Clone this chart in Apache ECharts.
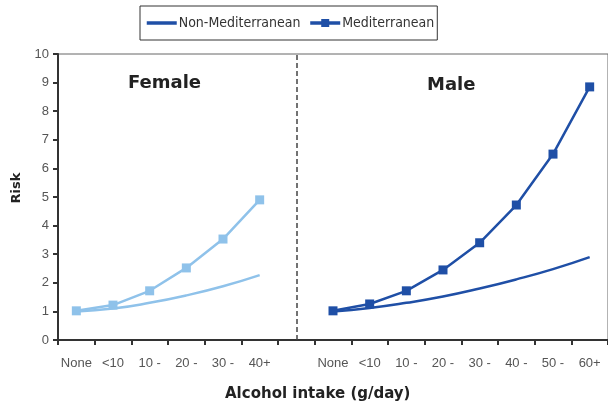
<!DOCTYPE html>
<html>
<head>
<meta charset="utf-8">
<script src="https://cdn.jsdelivr.net/npm/echarts@6/dist/echarts.min.js"></script>
<style>
    html, body { margin: 0; padding: 0; background: #fff; }
    #chart-risk { width: 608px; height: 402px; }
</style>
</head>
<body>
<div id="chart-risk"></div>
<script>
// categories: female block, gap, male block
var categories = ['None', '<10', '10 -', '20 -', '30 -', '40+', '',
    'None', '<10', '10 -', '20 -', '30 -', '40 -', '50 -', '60+'];

var yTicks = [0, 1, 2, 3, 4, 5, 6, 7, 8, 9, 10];

// null where the series has no point
var female_med     = [1.02, 1.22, 1.72, 2.52, 3.53, 4.9, null, null, null, null, null, null, null, null, null];
var female_non_med = [1.0, 1.1, 1.3, 1.56, 1.88, 2.27, null, null, null, null, null, null, null, null, null];
var male_med       = [null, null, null, null, null, null, null, 1.02, 1.26, 1.72, 2.45, 3.4, 4.72, 6.5, 8.85];
var male_non_med   = [null, null, null, null, null, null, null, 1.0, 1.12, 1.3, 1.52, 1.8, 2.12, 2.48, 2.9];

var dark_blue = '#1f4fa6';
var light_blue = '#8fc2ea';

var chart_risk = echarts.init(document.getElementById('chart-risk'));

var option_risk = {
    animation: false,
    textStyle: { fontFamily: 'Liberation Sans' },
    title: [
        {
            text: 'Female', left: 123, top: 69,
            textStyle: { fontFamily: 'DejaVu Sans', fontWeight: 'bold', fontSize: 18, color: '#222' }
        },
        {
            text: 'Male', left: 422, top: 71,
            textStyle: { fontFamily: 'DejaVu Sans', fontWeight: 'bold', fontSize: 18, color: '#222' }
        },
        {
            text: 'Alcohol intake (g/day)', left: 220, top: 382,
            textStyle: { fontFamily: 'DejaVu Sans', fontWeight: 'bold', fontSize: 15, color: '#222' }
        }
    ],
    legend: {
        data: [
            // the plain curve has no marker in its key
            { name: 'Non-Mediterranean', itemStyle: { opacity: 0 } },
            { name: 'Mediterranean' }
        ],
        left: 140,
        top: 6,
        padding: [10, 3, 10, 5],
        borderColor: '#333',
        borderWidth: 1,
        itemWidth: 30,
        itemHeight: 10,
        itemGap: 8,
        lineStyle: { width: 3.5 },
        textStyle: { fontFamily: 'DejaVu Sans Condensed', fontSize: 14, color: '#333', padding: [0, 0, 0, -3] }
    },
    grid: {
        left: 58,
        top: 54,
        right: -5,
        bottom: 62,
        show: true,
        borderColor: '#666',
        borderWidth: 1
    },
    xAxis: {
        type: 'category',
        data: categories,
        boundaryGap: true,
        axisLine: { show: true, lineStyle: { color: '#333', width: 2 } },
        axisTick: { show: true, length: 5, lineStyle: { color: '#333', width: 2 } },
        axisLabel: { fontSize: 13, color: '#555', margin: 17, interval: 0 },
        splitLine: { show: false }
    },
    yAxis: {
        type: 'value',
        min: yTicks[0],
        max: yTicks[yTicks.length - 1],
        interval: 1,
        name: 'Risk',
        nameLocation: 'middle',
        nameGap: 35,
        nameRotate: 90,
        nameTextStyle: { fontFamily: 'DejaVu Sans', fontWeight: 'bold', fontSize: 13, color: '#222', padding: [0, 0, 0, 18] },
        axisLine: { show: true, lineStyle: { color: '#333', width: 2 } },
        axisTick: { show: true, length: 5, lineStyle: { color: '#333', width: 2 } },
        axisLabel: { fontSize: 13, color: '#555', margin: 9 },
        splitLine: { show: false }
    },
    series: [
        {
            name: 'Non-Mediterranean',
            type: 'line',
            data: male_non_med,
            smooth: true,
            symbol: 'none',
            color: dark_blue,
            lineStyle: { width: 2.5, color: dark_blue },
            markLine: {
                silent: true,
                symbol: 'none',
                label: { show: false },
                lineStyle: { type: [5, 3], color: '#444', width: 1.5 },
                data: [{ xAxis: 6 }]
            }
        },
        {
            name: 'Mediterranean',
            type: 'line',
            data: male_med,
            symbol: 'rect',
            symbolSize: 9,
            color: dark_blue,
            itemStyle: { color: dark_blue },
            lineStyle: { width: 2.5, color: dark_blue }
        },
        {
            name: 'Non-Mediterranean',
            type: 'line',
            data: female_non_med,
            smooth: true,
            symbol: 'none',
            color: light_blue,
            lineStyle: { width: 2.5, color: light_blue }
        },
        {
            name: 'Mediterranean',
            type: 'line',
            data: female_med,
            symbol: 'rect',
            symbolSize: 9,
            color: light_blue,
            itemStyle: { color: light_blue },
            lineStyle: { width: 2.5, color: light_blue }
        }
    ]
};

chart_risk.setOption(option_risk);
</script>
</body>
</html>
